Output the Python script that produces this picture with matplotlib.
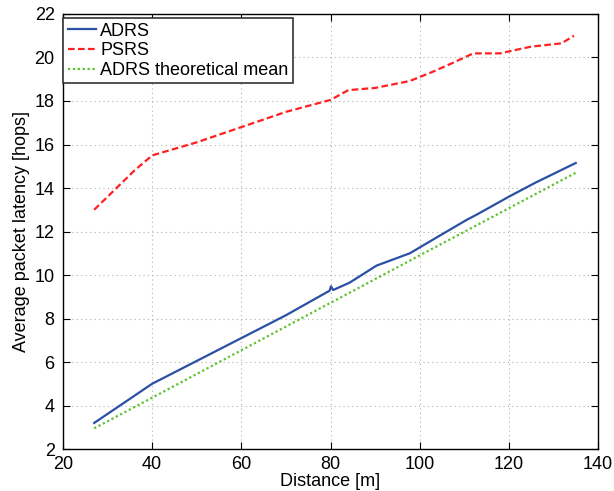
import matplotlib
matplotlib.use('Agg')
import matplotlib.pyplot as plt

plt.rcParams['font.family'] = ['Liberation Sans', 'DejaVu Sans']

# ADRS (simulated)
adrs_x = [27, 40, 50, 60, 70, 79.8, 80.1, 80.6, 84.3, 90.3, 97.8, 104, 110.5, 113, 120, 126, 135]
adrs_y = [3.2, 5.0, 6.05, 7.1, 8.15, 9.28, 9.48, 9.31, 9.65, 10.43, 11.0, 11.75, 12.53, 12.8, 13.6, 14.25, 15.15]

# PSRS
psrs_x = [27, 36, 40, 50, 60, 70, 80, 84, 90, 97.8, 103, 107.5, 112, 118, 125, 131.8, 134.6]
psrs_y = [13.0, 14.8, 15.5, 16.1, 16.8, 17.5, 18.05, 18.5, 18.6, 18.92, 19.35, 19.76, 20.19, 20.19, 20.5, 20.65, 21.0]

# ADRS theoretical mean
theo_x = [27, 40, 60, 80, 100, 120, 135]
theo_y = [2.95, 4.36, 6.54, 8.72, 10.9, 13.07, 14.7]

fig = plt.figure(figsize=(6.14, 4.91), dpi=100)
ax = fig.add_axes([0.1026, 0.0855, 0.8714, 0.886])

ax.plot(adrs_x, adrs_y, color='#2a4fa5', lw=1.6, label='ADRS')
ax.plot(psrs_x, psrs_y, color='#ff2020', lw=1.6, ls=(0, (3, 1.5)), label='PSRS')
ax.plot(theo_x, theo_y, color='#5cc22e', lw=1.6, ls=(0, (1, 1.2)), label='ADRS theoretical mean')

ax.set_xlim(20, 140)
ax.set_ylim(2, 22)
ax.set_xticks(range(20, 141, 20))
ax.set_yticks(range(2, 23, 2))
ax.tick_params(direction='in', top=True, right=True, labelsize=13, length=5)
ax.tick_params(axis='x', pad=5)
ax.tick_params(axis='y', pad=6)
ax.grid(True, color='#b0b0b0', ls=(0, (1, 3)), lw=0.8)
for s in ax.spines.values():
    s.set_linewidth(1.0)

ax.set_xlabel('Distance [m]', fontsize=13, labelpad=0)
ax.set_ylabel('Average packet latency [hops]', fontsize=13, labelpad=3)

leg = ax.legend(loc='upper left', bbox_to_anchor=(0, 1 - 4 / 435), fontsize=13,
                fancybox=False, framealpha=1, edgecolor='#333333', borderaxespad=0,
                handlelength=1.6, borderpad=0.25, labelspacing=0.15, handletextpad=0.2)
leg.get_frame().set_linewidth(1.2)

fig.savefig('out.png', dpi=100)
